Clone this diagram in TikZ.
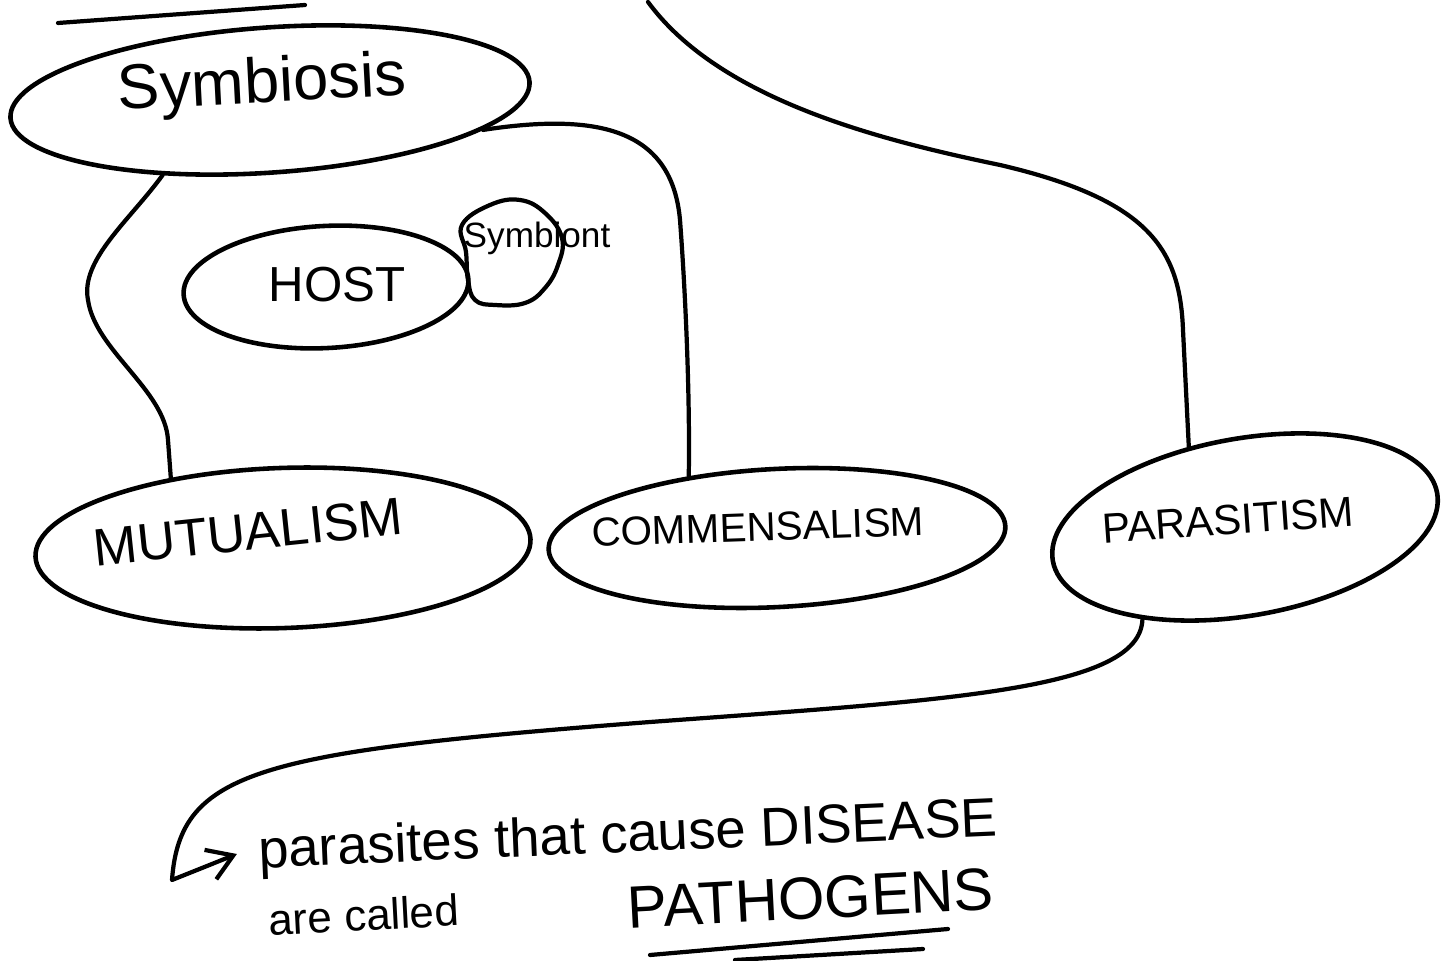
\documentclass[tikz,border=0pt]{standalone}
\usepackage{fontspec}
\setmainfont{Liberation Sans}
\usetikzlibrary{shapes.geometric,arrows.meta}

\tikzset{
  bubble/.style={ellipse, draw, line width=1.3pt, inner sep=0pt},
  link/.style={line width=1.2pt},
  word/.style={inner sep=0pt, font=\fontsize{#1}{#1}\selectfont},
}

\begin{document}
\begin{tikzpicture}[x=0.01cm, y=-0.01cm, line cap=round, line join=round]
	\useasboundingbox (0,0) rectangle (1451,961);

	% Top level group
	\node[bubble, minimum width=5.2cm, minimum height=1.45cm, rotate=4] (sym) at (270,100) {};
	\node[word=18, rotate=3] (symtxt) at (262,86) {Symbiosis};
	\draw[link] (58,23) -- (305,5);

	% Host and symbiont
	\node[bubble, minimum width=2.85cm, minimum height=1.22cm, rotate=3] (host) at (326,287) {};
	\node[word=14] (hosttxt) at (337,285) {HOST};
	\draw[link] plot[smooth cycle, tension=0.7] coordinates {(462,225) (490,205) (520,200)
		(545,213) (562,238) (558,265) (545,288) (525,303) (495,305) (475,300) (468,280) (466,252)};
	\node[word=10] (symbtxt) at (537,238) {Symbiont};

	% The three kinds
	\node[bubble, minimum width=4.95cm, minimum height=1.6cm, rotate=2] (mut) at (283,548) {};
	\node[word=15, rotate=6] (muttxt) at (248,532) {MUTUALISM};
	\node[bubble, minimum width=4.57cm, minimum height=1.38cm, rotate=3] (com) at (777,538) {};
	\node[word=11.5, rotate=2] (comtxt) at (758,527) {COMMENSALISM};
	\node[bubble, minimum width=3.9cm, minimum height=1.77cm, rotate=10] (par) at (1245,527) {};
	\node[word=12, rotate=4] (partxt) at (1228,520) {PARASITISM};

	% Note below
	\node[word=15.5, rotate=2.5, anchor=west] (disease) at (258,854) {parasites that cause DISEASE};
	\node[word=12.5, rotate=3, anchor=west] (called) at (268,920) {are called};
	\node[word=17, rotate=3, anchor=west] (pathogens) at (627,908) {PATHOGENS};
	\draw[link] (650,955) -- (948,929);
	\draw[link] (735,960) -- (923,949);

	% Connectors
	\coordinate (above) at (648,2);
	\draw[link] (sym.211) .. controls (130,220) and (80,260) .. (88,300)
		.. controls (95,350) and (165,390) .. (168,440) -- (mut.146);
	\draw[link] (sym.-12) .. controls (600,112) and (672,130) .. (680,220)
		.. controls (686,300) and (690,400) .. (com.142);
	\draw[link] (above) .. controls (720,100) and (880,140) .. (1000,165)
		.. controls (1150,200) and (1180,250) .. (1183,330) -- (par.115);
	\draw[link, -{Straight Barb[length=7pt,width=9pt]}] (par.212) .. controls (1140,690) and (950,700) .. (650,722)
		.. controls (260,752) and (180,770) .. (172,880) -- ([xshift=-6pt]disease.west);
\end{tikzpicture}
\end{document}
